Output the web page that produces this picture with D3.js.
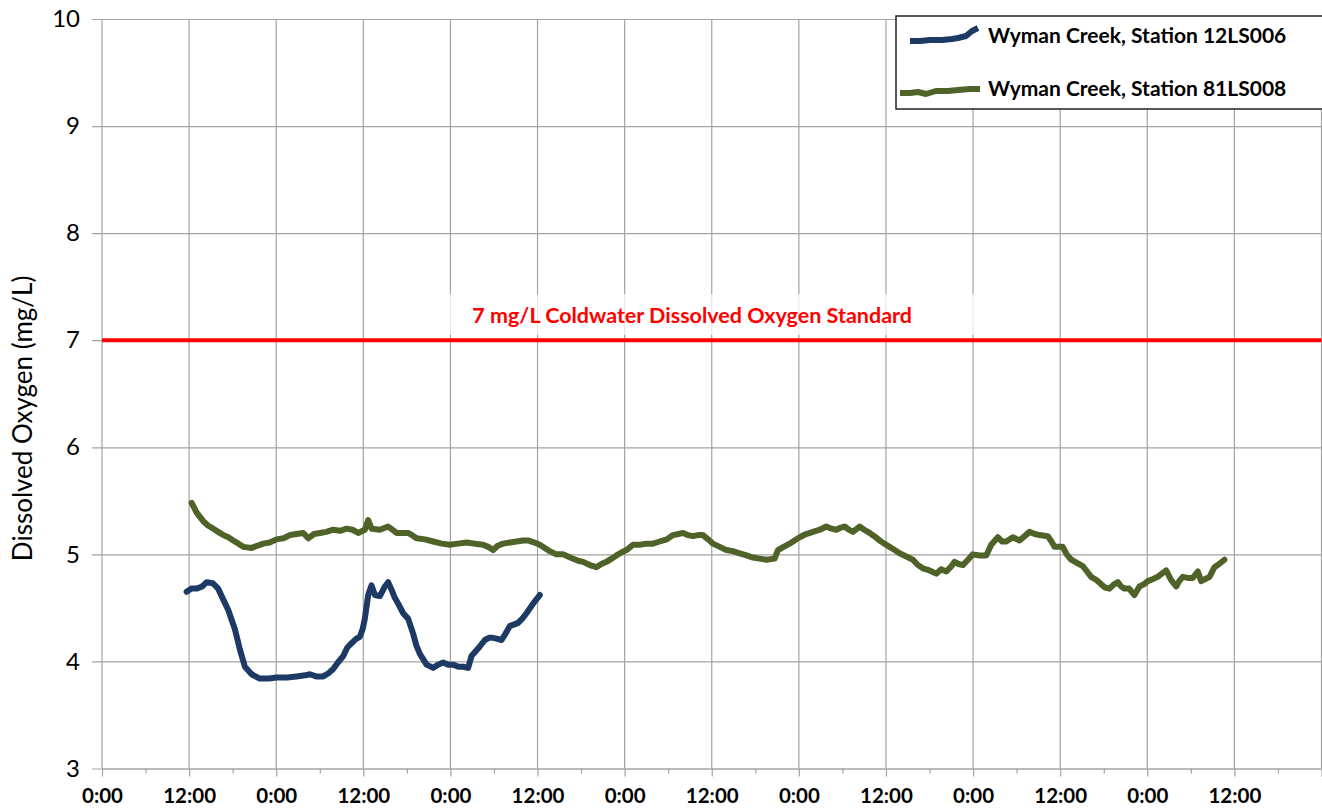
<!DOCTYPE html>
<html>
<head>
<meta charset="utf-8">
<script src="https://cdn.jsdelivr.net/npm/d3@7"></script>
<style>
  html, body { margin: 0; padding: 0; background: #fff; }
  svg { display: block; }
</style>
</head>
<body>
<svg id="chart" width="1322" height="810"></svg>
<script>
// ---- Data (hours since start of first day, dissolved oxygen mg/L) ----
const seriesNames = ["Wyman Creek, Station 12LS006", "Wyman Creek, Station 81LS008"];
const seriesColors = ["#1c3a63", "#4f6228"];

const station12LS006 = [
  [11.66,4.65],[12.3,4.68],[13.04,4.68],[13.8,4.70],[14.42,4.74],[15.28,4.73],[16.0,4.68],[16.48,4.61],
  [17.39,4.48],[18.31,4.30],[19.0,4.11],[19.69,3.95],[20.61,3.88],[21.75,3.84],[23.0,3.84],[24.05,3.85],
  [25.5,3.85],[26.81,3.86],[28.0,3.87],[28.64,3.88],[29.5,3.86],[30.47,3.86],[31.2,3.89],[31.85,3.93],
  [32.5,3.99],[33.22,4.05],[33.8,4.13],[34.38,4.17],[35.0,4.21],[35.52,4.23],[35.9,4.30],[36.21,4.40],
  [36.67,4.62],[37.13,4.71],[37.59,4.62],[38.28,4.61],[38.97,4.70],[39.42,4.74],[39.89,4.67],[40.3,4.60],
  [40.80,4.54],[41.49,4.45],[42.17,4.40],[42.86,4.26],[43.3,4.15],[43.79,4.07],[44.71,3.97],[45.62,3.94],
  [46.3,3.97],[46.99,3.99],[47.7,3.97],[48.37,3.97],[49.1,3.95],[49.75,3.95],[50.44,3.94],[50.90,4.05],
  [51.81,4.12],[52.74,4.20],[53.3,4.22],[53.88,4.22],[54.5,4.21],[55.03,4.20],[55.6,4.26],[56.18,4.33],
  [57.32,4.36],[57.9,4.40],[58.48,4.45],[59.39,4.54],[60.31,4.62]
];

const station81LS008 = [
  [12.35,5.48],[13.04,5.39],[13.95,5.31],[14.6,5.27],[15.33,5.24],[16.0,5.21],[16.70,5.18],[17.4,5.16],
  [18.08,5.13],[18.8,5.10],[19.46,5.07],[20.61,5.06],[21.4,5.08],[22.21,5.10],[23.1,5.11],[24.05,5.14],
  [25.0,5.15],[25.89,5.18],[26.8,5.19],[27.72,5.20],[28.41,5.15],[29.2,5.19],[30.02,5.20],[30.9,5.21],
  [31.85,5.23],[32.8,5.22],[33.69,5.24],[34.5,5.23],[35.29,5.20],[36.21,5.23],[36.67,5.32],[37.13,5.24],
  [38.28,5.23],[39.42,5.26],[40.0,5.23],[40.58,5.20],[41.4,5.20],[42.17,5.20],[42.7,5.18],[43.33,5.15],
  [44.5,5.14],[45.62,5.12],[46.8,5.10],[47.92,5.09],[49.0,5.10],[50.22,5.11],[51.4,5.10],[52.50,5.09],
  [53.2,5.07],[53.88,5.04],[54.5,5.08],[55.25,5.10],[56.2,5.11],[57.10,5.12],[58.0,5.13],[58.70,5.13],
  [59.6,5.11],[60.31,5.09],[61.0,5.06],[61.68,5.03],[62.6,5.00],[63.52,5.00],[64.2,4.98],[64.89,4.96],
  [65.6,4.94],[66.27,4.93],[67.2,4.90],[68.11,4.88],[68.8,4.91],[69.49,4.93],[70.2,4.96],[70.87,4.99],
  [71.6,5.02],[72.25,5.04],[73.15,5.09],[74.1,5.09],[75.00,5.10],[75.9,5.10],[76.83,5.12],[77.8,5.14],
  [78.66,5.18],[79.4,5.19],[80.04,5.20],[80.7,5.18],[81.42,5.17],[82.1,5.18],[82.79,5.18],[83.5,5.14],
  [84.17,5.10],[85.1,5.07],[86.01,5.04],[86.9,5.03],[87.85,5.01],[88.8,4.99],[89.68,4.97],[90.6,4.96],
  [91.52,4.95],[92.66,4.96],[93.12,5.04],[93.9,5.07],[94.73,5.10],[95.4,5.13],[96.11,5.16],[97.0,5.19],
  [97.94,5.21],[98.9,5.23],[99.78,5.26],[100.5,5.24],[101.16,5.23],[101.8,5.25],[102.30,5.26],[102.9,5.23],
  [103.45,5.21],[104.37,5.26],[105.0,5.23],[105.75,5.20],[106.4,5.17],[107.12,5.13],[107.8,5.10],[108.50,5.07],
  [109.2,5.04],[109.88,5.01],[110.8,4.98],[111.71,4.95],[112.4,4.90],[113.08,4.87],[114.0,4.85],[114.93,4.82],
  [115.6,4.86],[116.31,4.84],[116.9,4.88],[117.45,4.93],[118.0,4.91],[118.59,4.90],[119.3,4.95],[119.97,5.00],
  [120.9,4.99],[121.81,4.99],[122.50,5.09],[123.41,5.16],[124.0,5.12],[124.57,5.12],[125.48,5.16],[126.40,5.13],
  [127.1,5.17],[127.78,5.21],[128.5,5.19],[129.15,5.18],[130.30,5.17],[130.8,5.12],[131.22,5.07],[132.36,5.07],
  [132.9,5.00],[133.52,4.95],[134.3,4.92],[135.12,4.89],[135.7,4.84],[136.27,4.79],[137.0,4.76],[137.65,4.72],
  [138.2,4.69],[138.79,4.68],[139.4,4.72],[139.94,4.74],[140.4,4.70],[140.86,4.68],[141.5,4.68],[142.23,4.62],
  [142.92,4.70],[143.5,4.72],[144.07,4.75],[144.8,4.77],[145.44,4.79],[146.0,4.82],[146.60,4.85],[147.29,4.76],
  [147.98,4.70],[148.4,4.75],[148.89,4.79],[149.6,4.78],[150.27,4.78],[150.96,4.84],[151.43,4.75],[152.0,4.77],
  [152.57,4.79],[153.25,4.88],[153.9,4.91],[154.63,4.95]
];

const seriesData = [station12LS006, station81LS008];

const yTicks = [3, 4, 5, 6, 7, 8, 9, 10];
const xMajorTicks = d3.range(0, 169, 12);   // every 12 hours
const xMinorTicks = d3.range(6, 169, 12);   // 6-hour minor ticks
const xTickLabels = ["0:00", "12:00"];
const standardValue = 7;
const standardLabel = "7 mg/L Coldwater Dissolved Oxygen Standard";
const yAxisTitle = "Dissolved Oxygen (mg/L)";

// ---- Layout ----
const W = 1322, H = 810;
const margin = { top: 19, right: 0.5, bottom: 41.5, left: 102 };
const svg = d3.select("#chart");

const x = d3.scaleLinear().domain([0, 168]).range([margin.left, W - margin.right]);
const y = d3.scaleLinear().domain([3, 10]).range([H - margin.bottom, margin.top]);

const gridColor = "#a3a3a3";
const FONT = "Lato, 'Open Sans', sans-serif";

// horizontal grid lines (with outward ticks)
svg.append("g")
  .attr("transform", `translate(${margin.left},0)`)
  .call(d3.axisLeft(y).tickValues(yTicks).tickFormat(d3.format("d"))
    .tickSize(-(W - margin.right - margin.left)).tickSizeOuter(0).tickPadding(22))
  .call(g => g.select(".domain").remove())
  .call(g => g.selectAll(".tick line").attr("stroke", gridColor).attr("stroke-width", 1.2).attr("x1", -10))
  .call(g => g.selectAll(".tick text").attr("font-family", FONT).attr("font-size", 24).attr("fill", "#000"));

// vertical grid lines
svg.append("g")
  .selectAll("line")
  .data(xMajorTicks)
  .join("line")
  .attr("x1", d => x(d)).attr("x2", d => x(d))
  .attr("y1", margin.top).attr("y2", H - margin.bottom)
  .attr("stroke", gridColor).attr("stroke-width", 1.2);

// x axis
const xAxis = svg.append("g")
  .attr("transform", `translate(0,${H - margin.bottom})`)
  .call(d3.axisBottom(x).tickValues(xMajorTicks).tickSize(8).tickSizeOuter(0).tickPadding(12)
    .tickFormat(d => d >= 168 ? "" : xTickLabels[(d / 12) % 2]));
xAxis.select(".domain").attr("stroke", gridColor).attr("stroke-width", 1.2);
xAxis.selectAll(".tick line").attr("stroke", gridColor).attr("stroke-width", 1.2);
xAxis.selectAll(".tick text").attr("font-family", FONT).attr("font-size", 20.5).attr("font-weight", "bold").attr("fill", "#000");

// minor ticks
svg.append("g")
  .attr("transform", `translate(0,${H - margin.bottom})`)
  .call(d3.axisBottom(x).tickValues(xMinorTicks).tickSize(5).tickSizeOuter(0).tickFormat(""))
  .call(g => g.select(".domain").remove())
  .call(g => g.selectAll(".tick line").attr("stroke", gridColor).attr("stroke-width", 1.2));

// y axis title
svg.append("text")
  .attr("transform", `translate(32,${y(6.27)}) rotate(-90)`)
  .attr("text-anchor", "middle")
  .attr("font-family", FONT)
  .attr("font-size", 26)
  .attr("fill", "#000")
  .text(yAxisTitle);

// standard label with semi-transparent white box
svg.append("rect")
  .attr("x", x(42.7)).attr("y", y(7.43))
  .attr("width", x(121.5) - x(42.7)).attr("height", y(7.05) - y(7.43))
  .attr("fill", "#fff").attr("opacity", 0.75);

// red standard line
svg.append("line")
  .attr("x1", x(0)).attr("x2", x(168))
  .attr("y1", y(standardValue)).attr("y2", y(standardValue))
  .attr("stroke", "#ff0000").attr("stroke-width", 4);

svg.append("text")
  .attr("x", x(81.3)).attr("y", y(7.165))
  .attr("text-anchor", "middle")
  .attr("font-family", FONT).attr("font-weight", "bold").attr("font-size", 21.5)
  .attr("fill", "#ff0000")
  .text(standardLabel);

// series lines
const line = d3.line().x(d => x(d[0])).y(d => y(d[1])).curve(d3.curveLinear);
svg.append("g")
  .selectAll("path")
  .data(seriesData)
  .join("path")
  .attr("d", line)
  .attr("fill", "none")
  .attr("stroke", (d, i) => seriesColors[i])
  .attr("stroke-width", 6)
  .attr("stroke-linejoin", "round")
  .attr("stroke-linecap", "round");

// legend
const legend = svg.append("g").attr("transform", "translate(896,16)");
legend.append("rect")
  .attr("x", 0).attr("y", 0).attr("width", 440).attr("height", 93)
  .attr("fill", "#fff").attr("stroke", "#222").attr("stroke-width", 1.5);

// legend sample shapes (relative offsets: dx, dy)
const legendSamples = [
  [[14,25],[24,25],[34,24],[46,24],[56,23],[62,22],[70,20],[76,15],[82,12]],
  [[4,77],[14,77],[22,76],[30,78],[40,75],[52,75],[62,74],[74,73],[84,73]]
];
legend.selectAll("path.sample")
  .data(legendSamples)
  .join("path")
  .attr("class", "sample")
  .attr("d", d3.line())
  .attr("fill", "none")
  .attr("stroke", (d, i) => seriesColors[i])
  .attr("stroke-width", 6)
  .attr("stroke-linejoin", "round");

legend.selectAll("text")
  .data(seriesNames)
  .join("text")
  .attr("x", 92)
  .attr("y", (d, i) => 27 + i * 53)
  .attr("font-family", FONT).attr("font-weight", "bold").attr("font-size", 21)
  .attr("fill", "#000")
  .text(d => d);
</script>
</body>
</html>
